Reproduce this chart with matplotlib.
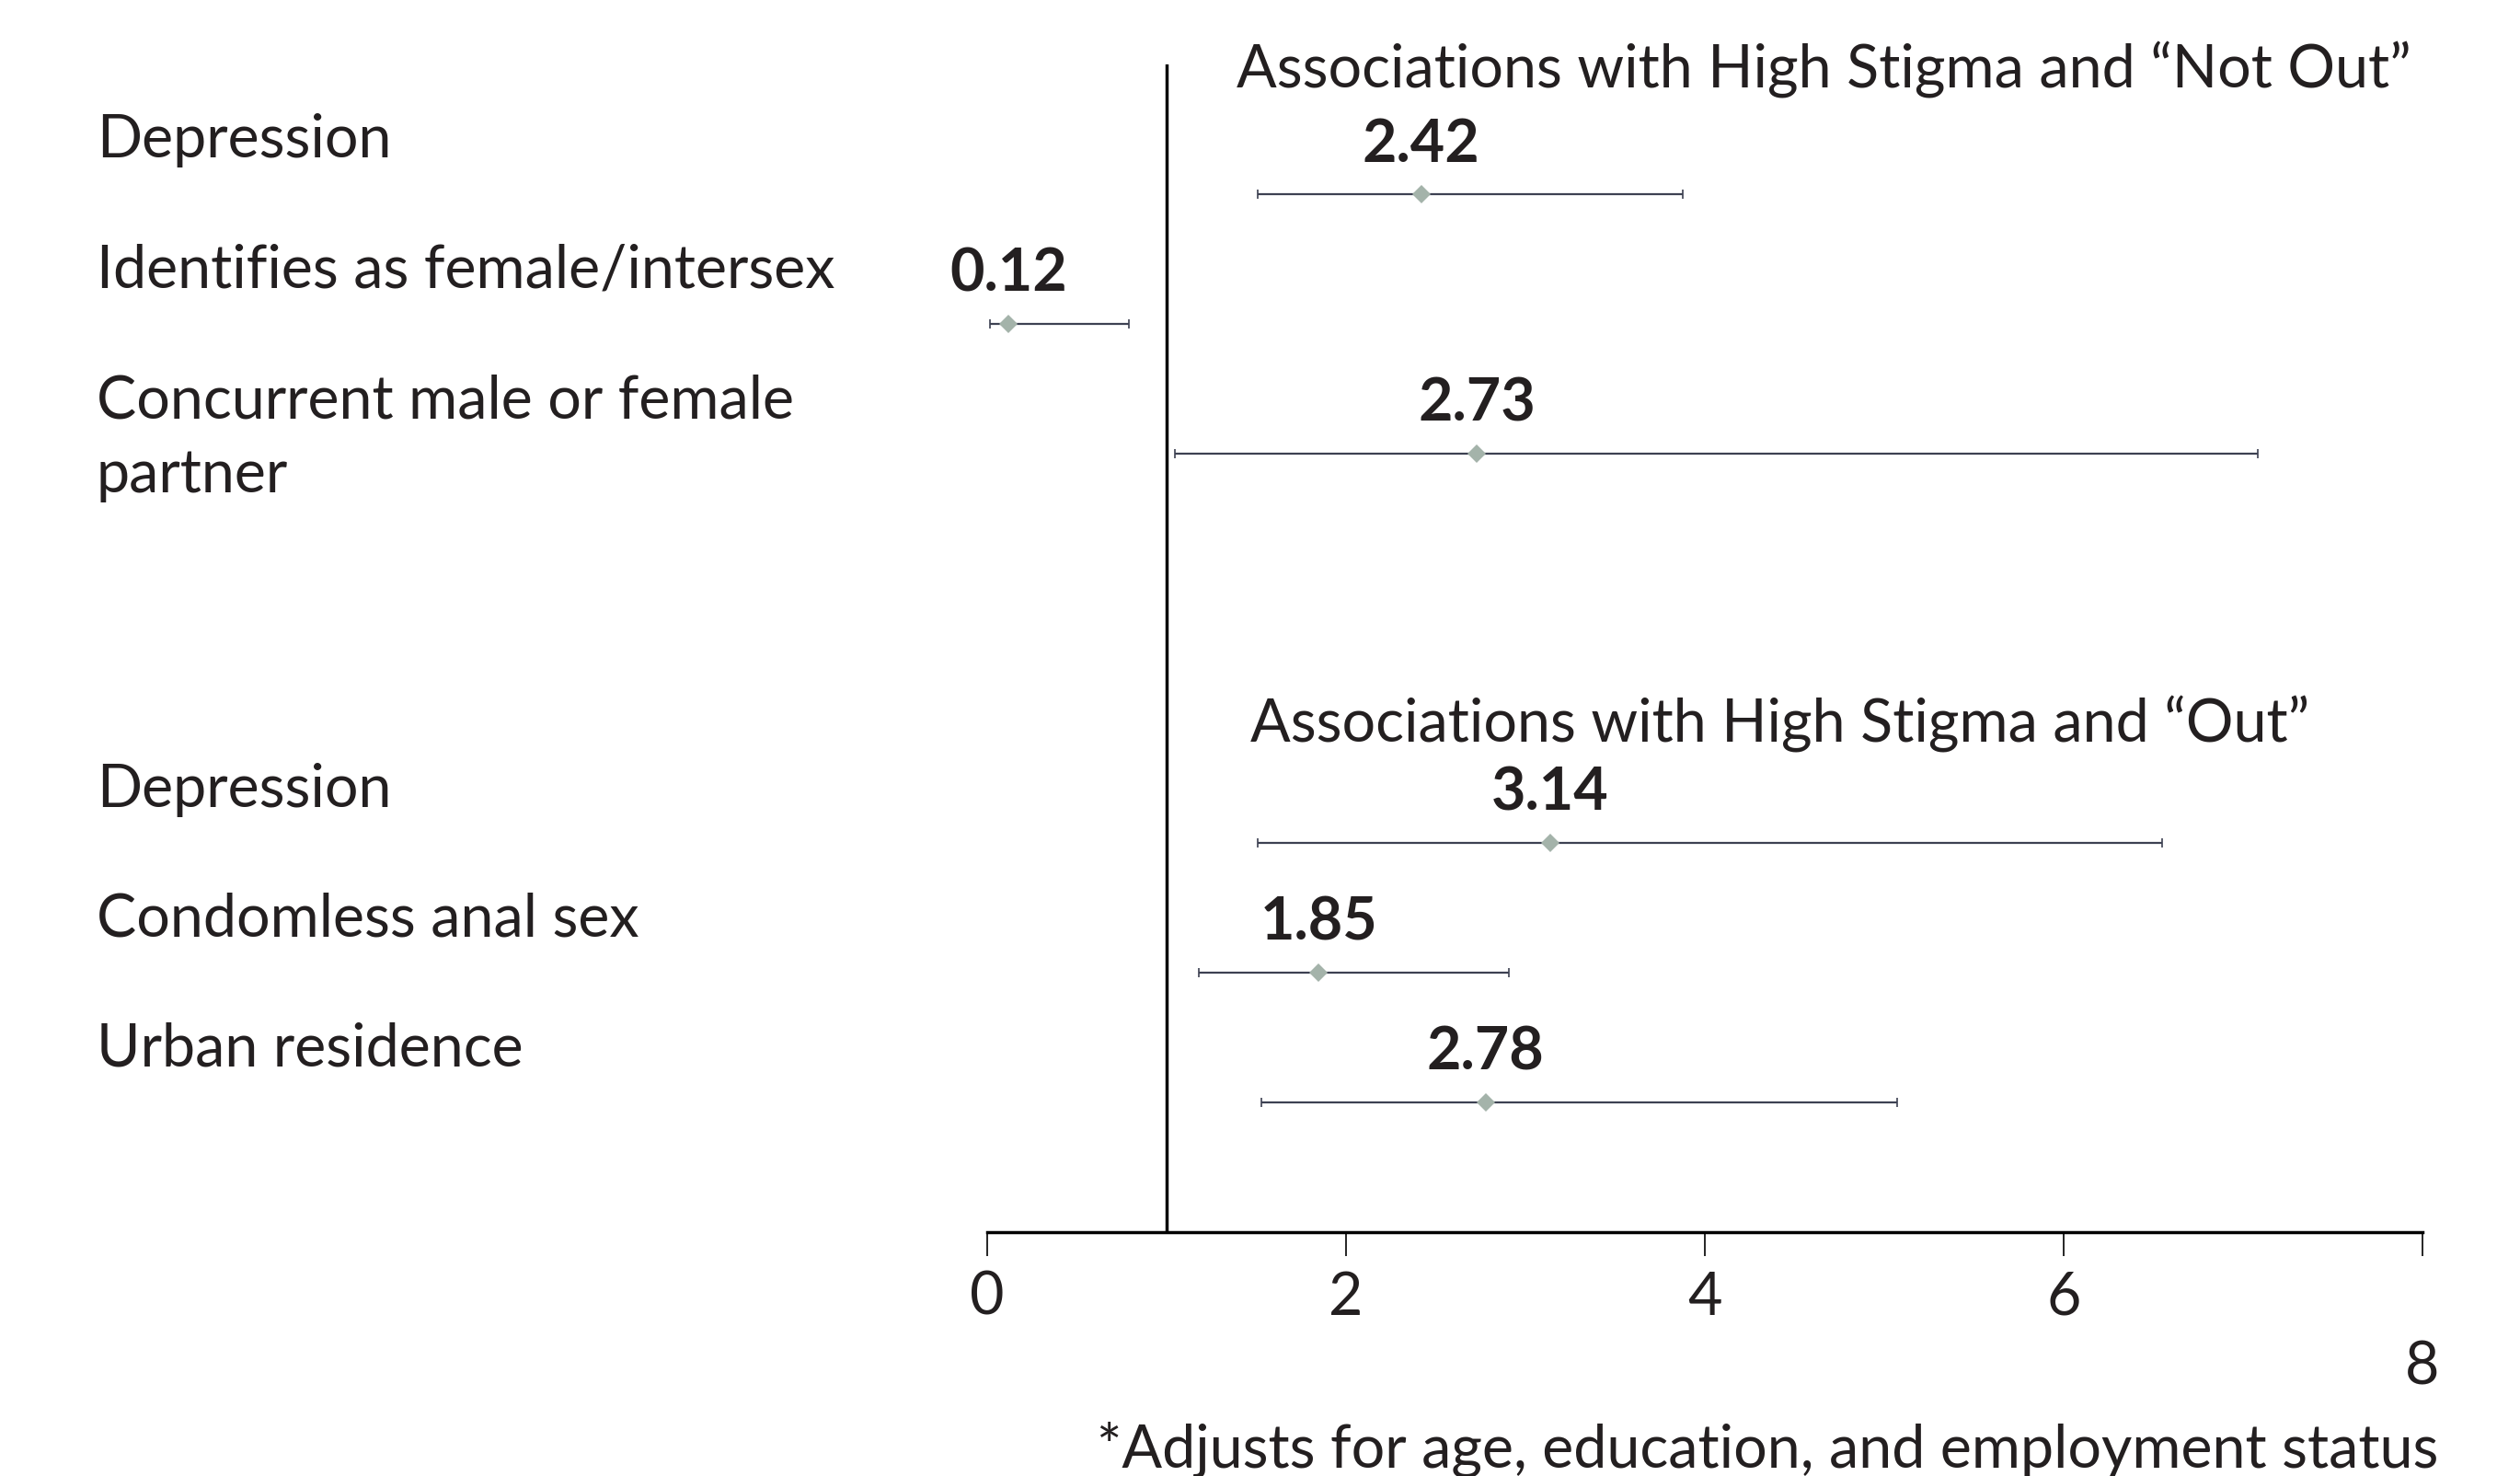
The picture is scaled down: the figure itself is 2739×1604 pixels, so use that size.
import numpy as np
import matplotlib
matplotlib.use('Agg')
import matplotlib.pyplot as plt
from matplotlib.transforms import blended_transform_factory

# adjusted odds ratios with 95% CI
labels = ['Depression', 'Identifies as female/intersex', 'Concurrent male or female\npartner',
          'Depression', 'Condomless anal sex', 'Urban residence']
odds = [2.42, 0.12, 2.73, 3.14, 1.85, 2.78]
ci_low = [1.51, 0.02, 1.05, 1.51, 1.18, 1.53]
ci_high = [3.88, 0.79, 7.08, 6.55, 2.91, 5.07]
rows = [0, 1, 2, 5, 6, 7]

titles = ['Associations with High Stigma and \u201cNot Out\u201d',
          'Associations with High Stigma and \u201cOut\u201d']
title_x = [1.39, 1.47]
title_y = [-0.82, 4.22]

xticks = [0, 2, 4, 6, 8]
footnote = '*Adjusts for age, education, and employment status'

txt = '#231f20'
plt.rcParams['font.family'] = ['Lato', 'DejaVu Sans']
fs = 46.5

fig = plt.figure(figsize=(27.39, 16.04), dpi=100)
ax = fig.add_axes([0.3916, 0.1652, 0.5697, 0.7912])

odds = np.array(odds)
err = np.array([odds - np.array(ci_low), np.array(ci_high) - odds])
ax.errorbar(odds, rows, xerr=err, fmt='none', ecolor='#3d4152', elinewidth=1.6,
            capsize=3.6, capthick=1.2, zorder=2)
ax.plot(odds, rows, 'D', color='#a4b3aa', markersize=10, markeredgewidth=0, zorder=3)

ax.axvline(1, color='black', lw=2.5, zorder=1)

for x, y in zip(odds, rows):
    ax.text(x, y - 0.25, f'{x:.2f}', ha='center', va='baseline', fontsize=fs,
            fontweight='bold', color=txt)

# row labels sit left of the axes, first line baseline just above each row
lab_tr = blended_transform_factory(fig.transFigure, ax.transData)
for lab, y in zip(labels, rows):
    extra = lab.count('\n')
    ax.text(0.0383, y - 0.28 + 0.58 * extra, lab, transform=lab_tr,
            ha='left', va='baseline', fontsize=fs, color=txt, linespacing=1.45)

for t, x, y in zip(titles, title_x, title_y):
    ax.text(x, y, t, ha='left', va='baseline', fontsize=fs, color=txt)

ax.set_xlim(0, 8)
ax.set_ylim(8, -1)
ax.set_xticks(xticks)
ax.set_xticklabels([str(t) if t < 8 else '\n' + str(t) for t in xticks], linespacing=1.35)
ax.tick_params(axis='x', length=19, width=1.2, pad=11, labelsize=fs, labelcolor=txt, direction='out')
ax.set_yticks([])
for s in ['top', 'right', 'left']:
    ax.spines[s].set_visible(False)
ax.spines['bottom'].set_linewidth(2.5)

fig.text(0.9675, 0.006, footnote, ha='right', va='baseline', fontsize=fs, color=txt)

fig.savefig('out.png', dpi=100)
